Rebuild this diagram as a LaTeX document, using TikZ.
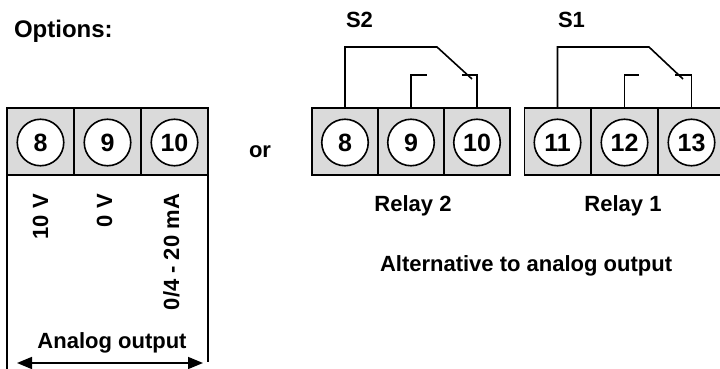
\documentclass[tikz,border=0pt]{standalone}
\usepackage{fontspec}
\setmainfont{Liberation Sans}
\usetikzlibrary{positioning}
\usetikzlibrary{arrows.meta}
\definecolor{termgray}{RGB}{218, 218, 218}

\begin{document}
\begin{tikzpicture}[x=1pt, y=-1pt, line width=1.6pt,
    every node/.style={inner sep=0pt, outer sep=0pt},
    font=\fontsize{22}{26}\selectfont\bfseries,
    cell/.style={draw, fill=termgray, minimum width=66pt, minimum height=67pt},
    pin/.style={draw, fill=white, circle, minimum size=46.5pt, line width=1.6pt,
        font=\fontsize{25}{28}\selectfont\bfseries},
    bigtri/.tip={Triangle[length=15pt, width=12pt]}]
    \useasboundingbox (0, 0) rectangle (720, 369);

    \node[anchor=base west, font=\fontsize{24}{28}\selectfont\bfseries] (opts) at (14, 38) {Options:};

    % analog output terminals
    \foreach \n/\cx in {8/40.5, 9/107.5, 10/174.5}
        \node[cell, minimum width=67pt] (a\n) at (\cx, 141.5) {} node[pin] (pa\n) at (\cx, 142.5) {\n};
    \draw (a8.south west) -- (7, 369);
    \draw (a10.south east) -- (208, 362);
    \node[rotate=90, anchor=base east] (v10) at (48, 194) {10 V};
    \node[rotate=90, anchor=base east] (v0) at (112, 194) {0 V};
    \node[rotate=90, anchor=base east] (vma) at (179, 194) {0/4 - 20 mA};
    \node[anchor=base] (aout) at (112, 348) {Analog output};
    \coordinate (arrL) at (17, 363);
    \coordinate (arrR) at (203, 363);
    \draw[bigtri-bigtri] (arrL) -- (arrR);

    \node[anchor=base west] (orword) at (249, 157) {or};

    % relay terminals
    \foreach \n/\cx in {8/345, 9/411, 10/477, 11/557.5, 12/624.5, 13/691.5}
        \node[cell] (r\n) at (\cx, 141.5) {} node[pin] (pr\n) at (\cx, 142.5) {\n};

    % switch S2
    \coordinate (s2pivot) at (437, 47);
    \coordinate (s2blade) at (472, 79);
    \coordinate (s2nc) at (427, 75);
    \coordinate (s2no) at (462, 75);
    \draw (r8.north) |- (s2pivot) -- (s2blade);
    \draw (r9.north) |- (s2nc);
    \draw (r10.north) |- (s2no);
    \node[anchor=base west] (s2) at (346, 28) {S2};

    % switch S1
    \coordinate (s1pivot) at (649, 47);
    \coordinate (s1blade) at (683, 79);
    \coordinate (s1nc) at (639, 75);
    \coordinate (s1no) at (675, 75);
    \draw (r11.north) |- (s1pivot) -- (s1blade);
    \draw (r12.north) |- (s1nc);
    \draw (r13.north) |- (s1no);
    \node[anchor=base west] (s1) at (558, 28) {S1};

    \node[anchor=base] (rel2) at (413, 211) {Relay 2};
    \node[anchor=base] (rel1) at (623, 211) {Relay 1};
    \node[anchor=base west] (alt) at (380, 271) {Alternative to analog output};
\end{tikzpicture}
\end{document}
